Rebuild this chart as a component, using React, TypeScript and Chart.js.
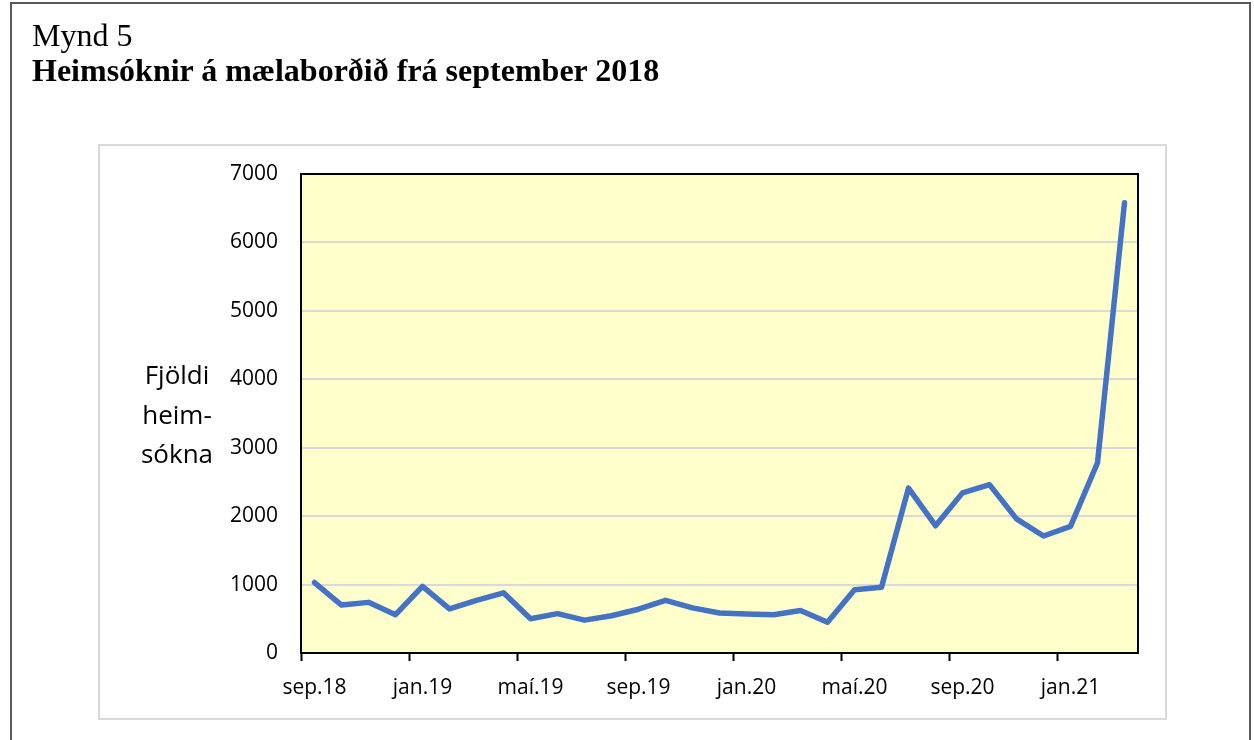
import React, { useEffect, useRef } from "react";
import { Chart, registerables } from "chart.js";

Chart.register(...registerables);

const months = [
  "sep.18", "okt.18", "nóv.18", "des.18",
  "jan.19", "feb.19", "mar.19", "apr.19",
  "maí.19", "jún.19", "júl.19", "ágú.19",
  "sep.19", "okt.19", "nóv.19", "des.19",
  "jan.20", "feb.20", "mar.20", "apr.20",
  "maí.20", "jún.20", "júl.20", "ágú.20",
  "sep.20", "okt.20", "nóv.20", "des.20",
  "jan.21", "feb.21", "mar.21",
];

const visits = [
  1030, 700, 740, 560, 975, 645, 770, 880, 500, 575, 480, 545, 640, 770, 660, 585,
  570, 560, 620, 450, 925, 960, 2410, 1860, 2340, 2460, 1960, 1710, 1850, 2780, 6580,
];

const yMin = 0;
const yMax = 7000;
const yStep = 1000;
const labelEvery = 4;

const titleLine1 = "Mynd 5";
const titleLine2 = "Heimsóknir á mælaborðið frá september 2018";
const yTitleLines = ["Fjöldi", "heim-", "sókna"];

const W = 1254;
const H = 740;

const framePlugin = {
  id: "frames",
  beforeDraw(chart: any) {
    const { ctx, chartArea: a } = chart;
    ctx.save();
    ctx.fillStyle = "#ffffff";
    ctx.fillRect(0, 0, W, H);
    ctx.strokeStyle = "#595959";
    ctx.lineWidth = 2;
    ctx.strokeRect(11, 3, 1239, 780);
    ctx.strokeStyle = "#D9D9D9";
    ctx.lineWidth = 2;
    ctx.strokeRect(99, 145, 1067, 574);
    ctx.fillStyle = "#FFFFCC";
    ctx.fillRect(a.left, a.top, a.right - a.left, a.bottom - a.top);
    ctx.restore();
  },
  afterDraw(chart: any) {
    const { ctx, chartArea: a } = chart;
    ctx.save();
    ctx.strokeStyle = "#000000";
    ctx.lineWidth = 2;
    ctx.beginPath();
    ctx.moveTo(a.left, a.top);
    ctx.lineTo(a.right, a.top);
    ctx.lineTo(a.right, a.bottom);
    ctx.stroke();
    ctx.restore();
  },
};

export default function App() {
  const ref = useRef<HTMLCanvasElement | null>(null);

  useEffect(() => {
    if (!ref.current) return;
    const chart = new Chart(ref.current, {
      type: "line",
      data: {
        labels: months,
        datasets: [
          {
            data: visits,
            borderColor: "#4472C4",
            borderWidth: 5.5,
            pointRadius: 0,
            tension: 0,
            borderJoinStyle: "round",
            borderCapStyle: "round",
            fill: false,
          },
        ],
      },
      options: {
        animation: false,
        responsive: false,
        devicePixelRatio: 1,
        layout: { padding: { left: 0, right: 116, top: 174, bottom: 0 } },
        plugins: {
          legend: { display: false },
          tooltip: { enabled: false },
          title: { display: false },
        },
        scales: {
          x: {
            type: "category",
            offset: true,
            afterFit(scale: any) {
              scale.height = 87;
            },
            grid: {
              offset: true,
              drawOnChartArea: false,
              drawTicks: true,
              tickLength: 8,
              tickWidth: 2,
              tickColor: (ctx: any) => (ctx.index % labelEvery === 0 ? "#000000" : "rgba(0,0,0,0)"),
            },
            border: { display: true, color: "#000000", width: 2 },
            ticks: {
              autoSkip: false,
              maxRotation: 0,
              minRotation: 0,
              padding: 14,
              color: "#000000",
              font: { family: "'Open Sans', sans-serif", size: 21 },
              callback: (_v: any, i: number) => (i % labelEvery === 0 ? months[i] : ""),
            },
          },
          y: {
            min: yMin,
            max: yMax,
            afterFit(scale: any) {
              scale.width = 301;
            },
            grid: {
              color: "#D9D9D9",
              lineWidth: 2,
              drawTicks: false,
            },
            border: { display: true, color: "#000000", width: 2 },
            ticks: {
              stepSize: yStep,
              padding: 23,
              color: "#000000",
              font: { family: "'Open Sans', sans-serif", size: 21 },
              callback: (v: any) => String(v),
            },
          },
        },
      },
      plugins: [framePlugin],
    } as any);
    return () => chart.destroy();
  }, []);

  return (
    <div style={{ position: "absolute", left: 0, top: 0, width: W, height: H, background: "#fff" }}>
      <canvas ref={ref} width={W} height={H} style={{ display: "block", width: W, height: H }} />
      <div
        style={{
          position: "absolute",
          left: 32,
          top: 18,
          fontFamily: "'Liberation Serif', serif",
          fontSize: 32,
          lineHeight: "35px",
          color: "#000",
          whiteSpace: "nowrap",
        }}
      >
        <div>{titleLine1}</div>
        <div style={{ fontWeight: "bold" }}>{titleLine2}</div>
      </div>
      <div
        style={{
          position: "absolute",
          left: 112,
          width: 130,
          top: 355,
          textAlign: "center",
          fontFamily: "'Open Sans', sans-serif",
          fontSize: 26,
          lineHeight: "39.5px",
          color: "#000",
        }}
      >
        {yTitleLines.map((t) => (
          <div key={t}>{t}</div>
        ))}
      </div>
    </div>
  );
}
